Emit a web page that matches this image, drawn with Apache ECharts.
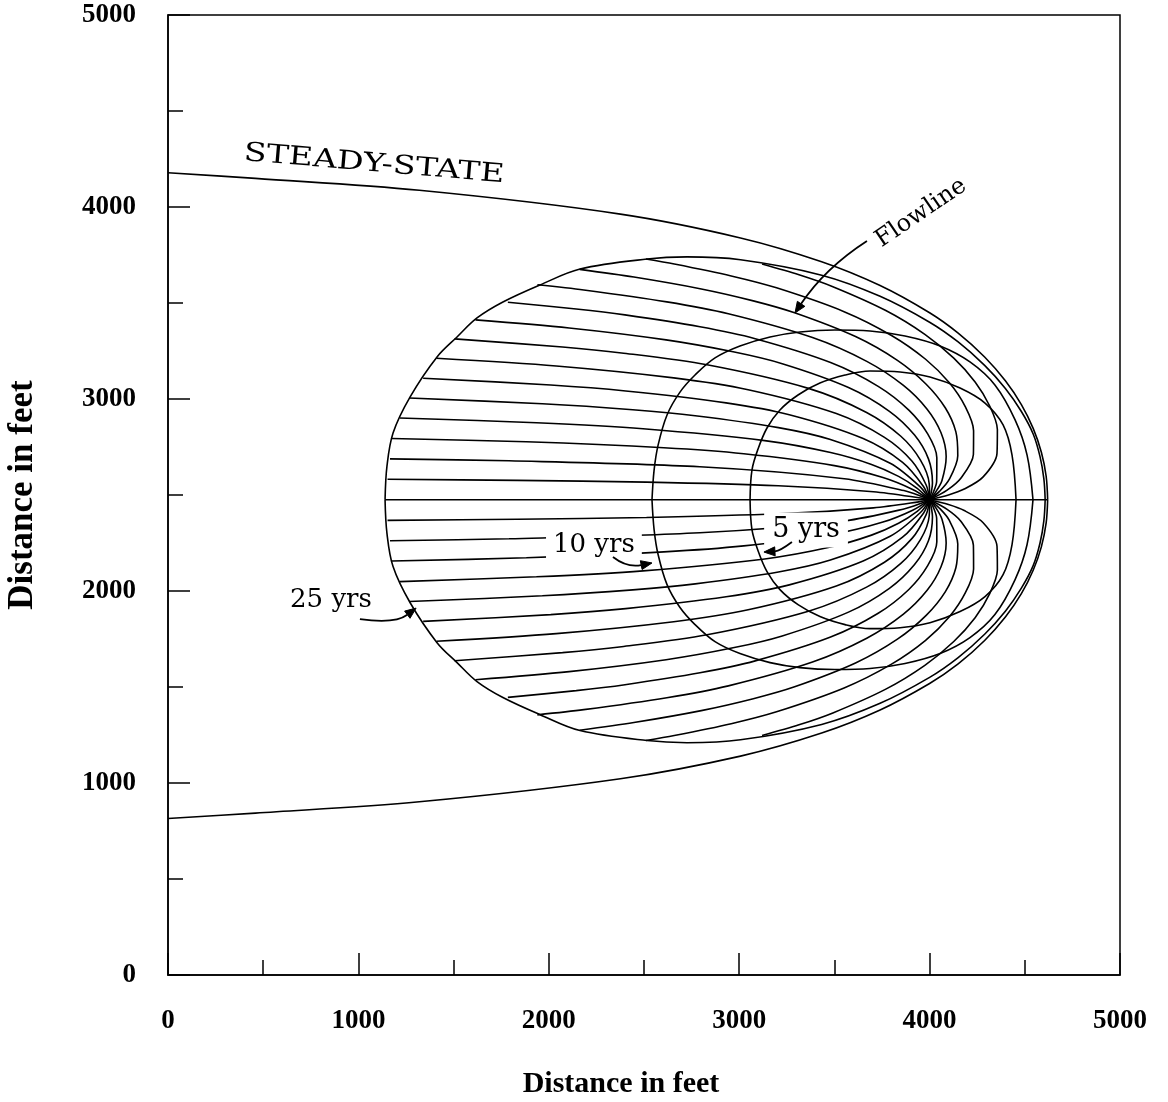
<!DOCTYPE html>
<html>
<head>
<meta charset="utf-8">
<script src="https://cdn.jsdelivr.net/npm/echarts/dist/echarts.min.js"></script>
<style>html,body{margin:0;padding:0;background:#fff}#chart{width:1168px;height:1102px}</style>
</head>
<body>
<div id="chart"></div>
<script>
// ---------- axis ticks ----------
const xTickValues = [0, 1000, 2000, 3000, 4000, 5000];
const yTickValues = [0, 1000, 2000, 3000, 4000, 5000];

// ---------- pumping well ----------
const well = [4000, 2475];

// ---------- steady-state capture zone envelope ----------
const steadyUpper = [[0,4178],[459,4149],[1320,4087],[2376,3963],[3007,3839],[3433,3715],[3740,3591],[4000,3449],[4150,3343],[4289,3219],[4398,3095],[4482,2971],[4544,2847],[4587,2723],[4612,2599],[4620,2475]];
const steadyLower = [[0,815],[459,843],[1320,902],[2376,1022],[3007,1140],[3433,1260],[3740,1380],[4000,1518],[4150,1620],[4289,1742],[4398,1864],[4482,1986],[4544,2108],[4587,2230],[4612,2353],[4620,2475]];

// ---------- travel-time isochrones ----------
const iso25Upper = [[1140,2475],[1150,2650],[1182,2823],[1271,3010],[1413,3219],[1518,3323],[1623,3422],[1759,3505],[1954,3594],[2164,3677],[2516,3729],[2726,3740],[3007,3725],[3433,3645],[3740,3535],[4000,3400],[4150,3297],[4289,3175],[4398,3055],[4482,2935],[4544,2818],[4580,2700],[4600,2585],[4607,2475]];
const iso25Lower = [[1140,2475],[1150,2300],[1182,2127],[1271,1940],[1413,1731],[1518,1627],[1623,1528],[1759,1445],[1954,1356],[2164,1273],[2516,1221],[2726,1210],[3007,1225],[3433,1305],[3740,1415],[4000,1550],[4150,1653],[4289,1775],[4398,1895],[4482,2015],[4544,2132],[4580,2250],[4600,2365],[4607,2475]];
const iso10Upper = [[2542,2475],[2553,2630],[2574,2760],[2621,2917],[2689,3036],[2768,3125],[2873,3214],[3004,3276],[3162,3323],[3319,3349],[3503,3359],[3687,3354],[3871,3328],[4055,3276],[4212,3193],[4343,3073],[4449,2891],[4512,2708],[4543,2475]];
const iso10Lower = [[2542,2475],[2553,2320],[2574,2190],[2621,2033],[2689,1914],[2768,1825],[2873,1736],[3004,1674],[3162,1627],[3319,1601],[3503,1591],[3687,1596],[3871,1622],[4055,1674],[4212,1757],[4343,1877],[4449,2059],[4512,2242],[4543,2475]];
const iso5Upper = [[3057,2475],[3067,2630],[3099,2740],[3146,2849],[3214,2943],[3309,3021],[3424,3083],[3556,3125],[3687,3146],[3845,3141],[4002,3115],[4160,3057],[4291,2979],[4386,2865],[4433,2708],[4454,2475]];
const iso5Lower = [[3057,2475],[3067,2320],[3099,2210],[3146,2101],[3214,2007],[3309,1929],[3424,1867],[3556,1825],[3687,1804],[3845,1809],[4002,1835],[4160,1893],[4291,1971],[4386,2085],[4433,2242],[4454,2475]];

// ---------- flowlines (from the 25-yr isochrone to the well) ----------
const centerLineUp = [[1140,2475],[4000,2475]];
const centerLineDown = [[4000,2475],[4620,2475]];
const flowlinesAbove = [
  [[1153,2582],[1834,2576],[2513,2567],[3205,2548],[3705,2517],[3943,2486],[4000,2475]],
  [[1166,2688],[1791,2678],[2793,2647],[3552,2585],[3865,2523],[3959,2492],[4000,2475]],
  [[1175,2794],[1882,2777],[2604,2746],[3024,2715],[3500,2653],[3755,2591],[3911,2529],[4000,2475]],
  [[1217,2901],[1935,2876],[2495,2845],[3134,2783],[3480,2721],[3695,2659],[3837,2597],[3935,2535],[4000,2475]],
  [[1267,3005],[1966,2975],[2441,2944],[2769,2913],[3206,2851],[3479,2789],[3793,2665],[3952,2541],[4000,2475]],
  [[1340,3108],[2010,3073],[2404,3042],[2931,2980],[3263,2918],[3651,2794],[3858,2670],[3967,2546],[4000,2475]],
  [[1410,3212],[2039,3172],[2656,3110],[3047,3048],[3510,2924],[3763,2800],[3908,2676],[3982,2552],[4000,2475]],
  [[1505,3313],[2072,3271],[2382,3240],[2831,3178],[3368,3054],[3669,2930],[3849,2806],[3952,2682],[3998,2558],[4000,2475]],
  [[1615,3412],[2107,3370],[2616,3308],[2968,3246],[3226,3184],[3574,3060],[3789,2936],[3921,2812],[3994,2688],[4015,2564],[4000,2475]],
  [[1785,3504],[2144,3469],[2400,3438],[2794,3376],[3084,3314],[3480,3190],[3730,3066],[3891,2942],[3990,2818],[4038,2694],[4037,2570],[4017,2508],[4000,2475]],
  [[1940,3595],[2184,3568],[2620,3506],[2943,3444],[3385,3320],[3670,3196],[3861,3072],[3986,2948],[4060,2824],[4087,2700],[4065,2576],[4031,2514],[4000,2475]],
  [[2162,3675],[2447,3635],[2801,3573],[3074,3511],[3291,3449],[3611,3325],[3831,3201],[3982,3077],[4083,2953],[4138,2829],[4148,2705],[4103,2581],[4053,2520],[4000,2475]],
  [[2510,3729],[2659,3703],[2958,3641],[3196,3579],[3551,3455],[3800,3331],[3979,3207],[4105,3083],[4188,2959],[4231,2835],[4230,2711],[4164,2587],[4092,2525],[4000,2475]],
  [[3120,3703],[3314,3647],[3492,3585],[3770,3461],[3975,3337],[4127,3213],[4239,3089],[4315,2965],[4356,2841],[4354,2717],[4280,2593],[4182,2531],[4099,2500],[4000,2475]]
];
const flowlinesBelow = [
  [[1153,2368],[1834,2374],[2513,2383],[3205,2402],[3705,2433],[3943,2464],[4000,2475]],
  [[1166,2262],[1791,2272],[2793,2303],[3552,2365],[3865,2427],[3959,2458],[4000,2475]],
  [[1175,2156],[1882,2173],[2604,2204],[3024,2235],[3500,2297],[3755,2359],[3911,2421],[4000,2475]],
  [[1217,2049],[1935,2074],[2495,2105],[3134,2167],[3480,2229],[3695,2291],[3837,2353],[3935,2415],[4000,2475]],
  [[1267,1945],[1966,1975],[2441,2006],[2769,2037],[3206,2099],[3479,2161],[3793,2285],[3952,2409],[4000,2475]],
  [[1340,1842],[2010,1877],[2404,1908],[2931,1970],[3263,2032],[3651,2156],[3858,2280],[3967,2404],[4000,2475]],
  [[1410,1738],[2039,1778],[2656,1840],[3047,1902],[3510,2026],[3763,2150],[3908,2274],[3982,2398],[4000,2475]],
  [[1505,1637],[2072,1679],[2382,1710],[2831,1772],[3368,1896],[3669,2020],[3849,2144],[3952,2268],[3998,2392],[4000,2475]],
  [[1615,1538],[2107,1580],[2616,1642],[2968,1704],[3226,1766],[3574,1890],[3789,2014],[3921,2138],[3994,2262],[4015,2386],[4000,2475]],
  [[1785,1446],[2144,1481],[2400,1512],[2794,1574],[3084,1636],[3480,1760],[3730,1884],[3891,2008],[3990,2132],[4038,2256],[4037,2380],[4017,2442],[4000,2475]],
  [[1940,1355],[2184,1382],[2620,1444],[2943,1506],[3385,1630],[3670,1754],[3861,1878],[3986,2002],[4060,2126],[4087,2250],[4065,2374],[4031,2436],[4000,2475]],
  [[2162,1275],[2447,1315],[2801,1377],[3074,1439],[3291,1501],[3611,1625],[3831,1749],[3982,1873],[4083,1997],[4138,2121],[4148,2245],[4103,2369],[4053,2430],[4000,2475]],
  [[2510,1221],[2659,1247],[2958,1309],[3196,1371],[3551,1495],[3800,1619],[3979,1743],[4105,1867],[4188,1991],[4231,2115],[4230,2239],[4164,2363],[4092,2425],[4000,2475]],
  [[3120,1247],[3314,1303],[3492,1365],[3770,1489],[3975,1613],[4127,1737],[4239,1861],[4315,1985],[4356,2109],[4354,2233],[4280,2357],[4182,2419],[4099,2450],[4000,2475]]
];

// ---------- annotations (data coordinates) ----------
const labelSteady = { text: 'STEADY-STATE', at: [1082, 4222] };
const labelFlowline = { text: 'Flowline', at: [3955, 3969] };
const label25 = { text: '25 yrs', at: [856, 1953] };
const label10 = { text: '10 yrs', at: [2237, 2240] };
const label5 = { text: '5 yrs', at: [3351, 2318] };
const arrowFlowline = [[3671,3823],[3451,3682],[3293,3448]];
const arrow25 = [[1008,1854],[1192,1828],[1303,1911]];
const arrow10 = [[2337,2177],[2411,2120],[2542,2146]];
const arrow5 = [[3277,2255],[3214,2208],[3130,2203]];

// ---------- chart ----------
const BLACK = '#000';
function lineSeries(name, data, smooth) {
  return { type: 'line', name: name, data: data, symbol: 'none', showSymbol: false,
    smooth: smooth, silent: true, z: 3, animation: false,
    lineStyle: { color: BLACK, width: 1.6 } };
}
const series = [
  lineSeries('Steady-state upper', steadyUpper, 0.35),
  lineSeries('Steady-state lower', steadyLower, 0.35),
  lineSeries('25 yrs upper', iso25Upper, 0.35),
  lineSeries('25 yrs lower', iso25Lower, 0.35),
  lineSeries('10 yrs upper', iso10Upper, 0.35),
  lineSeries('10 yrs lower', iso10Lower, 0.35),
  lineSeries('5 yrs upper', iso5Upper, 0.35),
  lineSeries('5 yrs lower', iso5Lower, 0.35),
  lineSeries('Center flowline', centerLineUp, 0),
  lineSeries('Downgradient flowline', centerLineDown, 0)
];
flowlinesAbove.forEach((d, i) => series.push(lineSeries('Flowline above ' + (i + 1), d, 0.3)));
flowlinesBelow.forEach((d, i) => series.push(lineSeries('Flowline below ' + (i + 1), d, 0.3)));
series.push({ type: 'scatter', name: 'Well', data: [well], symbol: 'circle', symbolSize: 8,
  itemStyle: { color: BLACK }, silent: true, z: 4, animation: false });

const tickFont = { color: BLACK, fontFamily: '"Liberation Serif", serif', fontWeight: 'bold', fontSize: 27 };
const titleFontX = { color: BLACK, fontFamily: '"Liberation Serif", serif', fontWeight: 'bold', fontSize: 30 };
const titleFontY = { color: BLACK, fontFamily: '"Liberation Serif", serif', fontWeight: 'bold', fontSize: 35 };

const option = {
  animation: false,
  backgroundColor: '#fff',
  grid: { left: 168, right: 48, top: 15, bottom: 127, outerBoundsMode: 'none', containLabel: false,
    show: true, borderColor: BLACK, borderWidth: 1.5, backgroundColor: 'transparent' },
  xAxis: {
    type: 'value', min: 0, max: 5000, interval: 1000,
    axisLine: { lineStyle: { color: BLACK, width: 1.5 } },
    axisTick: { inside: true, length: 22, lineStyle: { color: BLACK, width: 1.5 } },
    minorTick: { show: true, splitNumber: 2, length: 15, lineStyle: { color: BLACK, width: 1.5 } },
    splitLine: { show: false },
    axisLabel: Object.assign({ margin: 33, formatter: v => (xTickValues.indexOf(v) >= 0 ? String(v) : '') }, tickFont),
    name: 'Distance in feet', nameLocation: 'middle', nameGap: 94,
    nameTextStyle: Object.assign({ padding: [0, 46, 0, 0] }, titleFontX)
  },
  yAxis: {
    type: 'value', min: 0, max: 5000, interval: 1000,
    axisLine: { lineStyle: { color: BLACK, width: 1.5 } },
    axisTick: { inside: true, length: 22, lineStyle: { color: BLACK, width: 1.5 } },
    minorTick: { show: true, splitNumber: 2, length: 15, lineStyle: { color: BLACK, width: 1.5 } },
    splitLine: { show: false },
    axisLabel: Object.assign({ margin: 32, formatter: v => (yTickValues.indexOf(v) >= 0 ? String(v) : '') }, tickFont),
    name: 'Distance in feet', nameLocation: 'middle', nameGap: 128,
    nameTextStyle: titleFontY
  },
  series: series
};

const chart = echarts.init(document.getElementById('chart'), null, { renderer: 'canvas' });
chart.setOption(option);

const toPx = p => chart.convertToPixel({ gridIndex: 0 }, p);
const annFont = size => size + 'px "DejaVu Serif", serif';

function textEl(lab, size, opts) {
  const p = toPx(lab.at);
  const el = { type: 'text', x: p[0], y: p[1], z: 50, silent: true,
    style: { text: lab.text, font: annFont(size), fill: BLACK, align: 'center', verticalAlign: 'middle' } };
  return Object.assign(el, opts || {});
}
function arrowEls(pts) {
  const a = toPx(pts[0]), c = toPx(pts[1]), b = toPx(pts[2]);
  const dx = b[0] - c[0], dy = b[1] - c[1];
  const len = Math.sqrt(dx * dx + dy * dy) || 1;
  const ux = dx / len, uy = dy / len, nx = -uy, ny = ux;
  const hl = 11, hw = 4.5;
  const bx = b[0] - ux * hl, by = b[1] - uy * hl;
  return [
    { type: 'bezierCurve', z: 60, silent: true,
      shape: { x1: a[0], y1: a[1], cpx1: c[0], cpy1: c[1], x2: bx, y2: by },
      style: { stroke: BLACK, lineWidth: 1.8, fill: null } },
    { type: 'polygon', z: 60, silent: true,
      shape: { points: [[b[0], b[1]], [bx + nx * hw, by + ny * hw], [bx - nx * hw, by - ny * hw]] },
      style: { fill: BLACK, stroke: BLACK, lineWidth: 1 } }
  ];
}

const graphic = [];
graphic.push(textEl(labelSteady, 26, { rotation: -0.085, scaleX: 1.28 }));
graphic.push(textEl(labelFlowline, 24, { rotation: 0.6 }));
graphic.push(textEl(label25, 26));
const t10 = textEl(label10, 26); t10.style.backgroundColor = '#fff'; t10.style.padding = [4, 7]; graphic.push(t10);
const t5 = textEl(label5, 27); t5.style.backgroundColor = '#fff'; t5.style.padding = [4, 8]; graphic.push(t5);
[arrowFlowline, arrow25, arrow10, arrow5].forEach(ar => arrowEls(ar).forEach(e => graphic.push(e)));
chart.setOption({ graphic: graphic });
</script>
</body>
</html>
